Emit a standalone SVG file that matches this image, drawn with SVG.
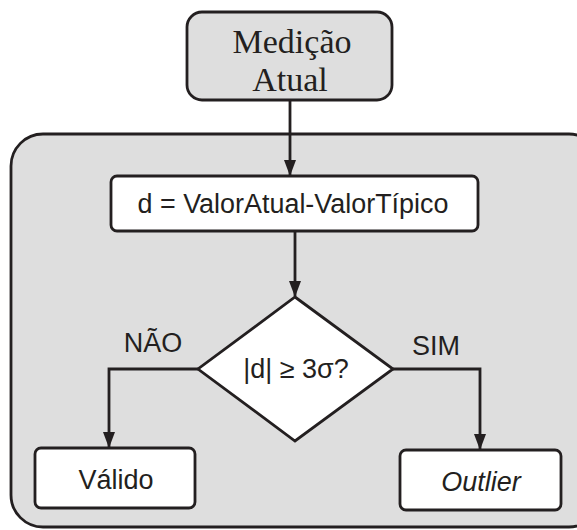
<svg xmlns="http://www.w3.org/2000/svg" width="577" height="530" viewBox="0 0 577 530">
<style>
.b{stroke:#231f20;stroke-width:2.8;}
.g{fill:#dedede;}
.w{fill:#ffffff;}
.s{font-family:"Liberation Sans",Arial,sans-serif;font-size:27px;fill:#231f20;text-anchor:middle;}
.r{font-family:"Liberation Serif","Times New Roman",serif;font-size:34px;fill:#231f20;text-anchor:middle;}
.c{fill:none;stroke:#231f20;stroke-width:2.8;}
</style>
<defs>
<marker id="a" markerWidth="16" markerHeight="12" refX="15" refY="6" orient="auto" markerUnits="userSpaceOnUse" viewBox="0 0 16 12">
<path d="M0,0 L16,6 L0,12 Z" fill="#231f20"/>
</marker>
</defs>
<g id="container">
<rect class="b g" x="11" y="134" width="590" height="393" rx="32" ry="32"/>
</g>
<g id="medicao">
<rect class="b g" x="187" y="12" width="205" height="88" rx="15" ry="15"/>
<text class="r" x="292" y="53">Medição</text>
<text class="r" x="290" y="91">Atual</text>
</g>
<g id="calc">
<rect class="b w" x="111" y="176" width="367" height="55" rx="6" ry="6"/>
<text class="s" x="293" y="213" textLength="311" lengthAdjust="spacingAndGlyphs">d = ValorAtual-ValorTípico</text>
</g>
<g id="decision">
<polygon class="b w" points="295,297 393,369 295,441 198,369"/>
<text class="s" x="296" y="378">|d| ≥ 3σ?</text>
</g>
<g id="valido">
<rect class="b w" x="35" y="448" width="160" height="60" rx="6" ry="6"/>
<text class="s" x="116" y="489">Válido</text>
</g>
<g id="outlier">
<rect class="b w" x="400" y="450" width="161" height="60" rx="6" ry="6"/>
<text class="s" x="481" y="491" font-style="italic">Outlier</text>
</g>
<g id="connectors">
<path class="c" d="M290,100 L290,175" marker-end="url(#a)"/>
<path class="c" d="M295,231 L295,296" marker-end="url(#a)"/>
<path class="c" d="M198,369 L109,369 L109,447" marker-end="url(#a)"/>
<path class="c" d="M393,369 L480,369 L480,449" marker-end="url(#a)"/>
<text class="s" x="153" y="352">NÃO</text>
<text class="s" x="436" y="355">SIM</text>
</g>
</svg>
